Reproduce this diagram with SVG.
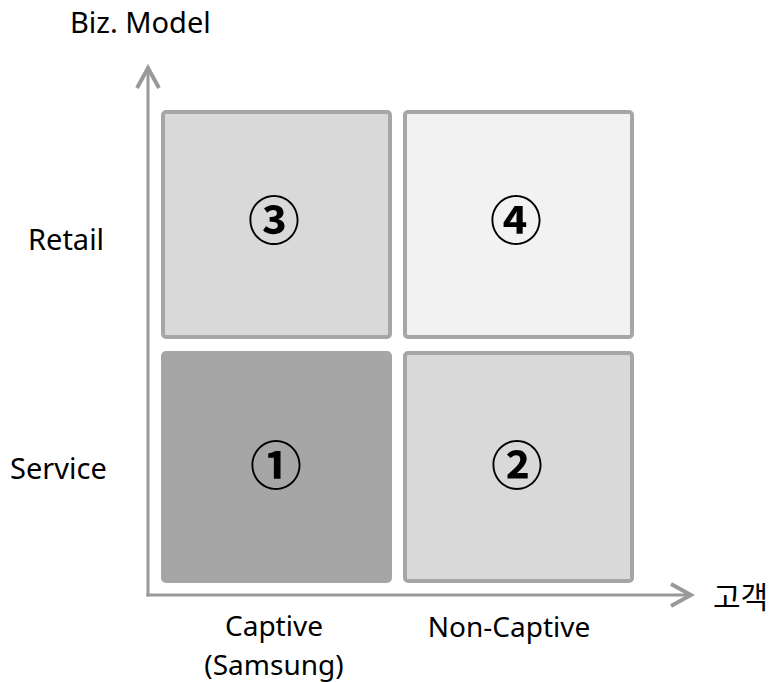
<svg xmlns="http://www.w3.org/2000/svg" width="775" height="682" viewBox="0 0 775 682">
<style>
.box{stroke:#a6a6a6;stroke-width:4}
.num{font-family:"Noto Sans CJK KR","Noto Sans",sans-serif;font-size:52px;font-weight:bold;fill:#000;text-anchor:middle}
.lbl{font-family:"Noto Sans","Noto Sans CJK KR",sans-serif;font-size:29px;fill:#000}
.bot{font-size:28px}
.axis{stroke:#999;stroke-width:3;fill:none}
</style>
<defs>
<marker id="arr" markerWidth="26" markerHeight="26" refX="22" refY="13" orient="auto" markerUnits="userSpaceOnUse">
<path d="M2,2 L22,13 L2,24" fill="none" stroke="#999" stroke-width="4"/>
</marker>
</defs>
<rect width="775" height="682" fill="#fff"/>
<g id="connectors">
<path class="axis" d="M148,596.5 V68" marker-end="url(#arr)"/>
<path class="axis" d="M146.5,595 H691" marker-end="url(#arr)"/>
</g>
<g id="q3"><rect class="box" x="163" y="112" width="227" height="225" rx="3" fill="#d9d9d9"/><text class="num" x="274" y="240">③</text></g>
<g id="q4"><rect class="box" x="405" y="112" width="227" height="225" rx="3" fill="#f2f2f2"/><text class="num" x="516" y="240">④</text></g>
<g id="q1"><rect class="box" x="163" y="353" width="227" height="228" rx="3" fill="#a6a6a6"/><text class="num" x="276" y="485">①</text></g>
<g id="q2"><rect class="box" x="405" y="353" width="227" height="228" rx="3" fill="#d9d9d9"/><text class="num" x="517" y="485">②</text></g>
<g id="labels">
<text class="lbl" x="70" y="33">Biz. Model</text>
<text class="lbl" x="28" y="250">Retail</text>
<text class="lbl" x="10" y="479">Service</text>
<text class="lbl bot" x="274" y="636" text-anchor="middle">Captive</text>
<text class="lbl bot" x="274" y="675" text-anchor="middle">(Samsung)</text>
<text class="lbl bot" x="509" y="637" text-anchor="middle">Non-Captive</text>
<text class="lbl" x="713" y="608" style="font-size:30px">고객</text>
</g>
</svg>
